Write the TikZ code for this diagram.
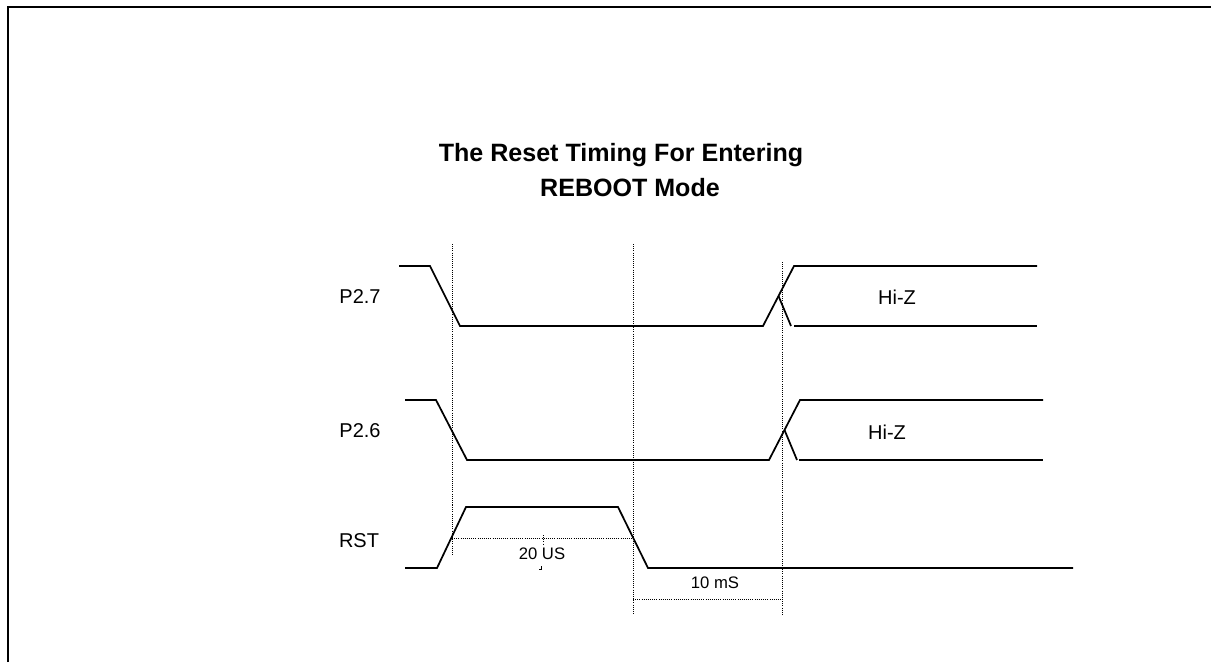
\documentclass[tikz,border=0pt]{standalone}
\usepackage{fontspec}
\setmainfont{Liberation Sans}
\begin{document}
\begin{tikzpicture}[x=0.75pt,y=-0.75pt,
  sig/.style={line width=1.3pt,line join=miter},
  guide/.style={line width=0.6pt,densely dotted},
  frame/.style={line width=1.6pt},
  lbl/.style={font=\fontsize{15}{18}\selectfont,inner sep=0pt},
  dim/.style={font=\fontsize{12.5}{15}\selectfont,inner sep=0pt},
  ttl/.style={font=\bfseries\fontsize{18.8}{22}\selectfont,inner sep=0pt}]
\useasboundingbox (0,0) rectangle (1211,662);
% frame (top and left only)
\draw[frame] (8,662) -- (8,7) -- (1211,7);
% title
\node[ttl] (t1) at (621,155) {The Reset Timing For Entering};
\node[ttl] (t2) at (630,188) {REBOOT Mode};
% labels
\node[lbl] (l27) at (360,297) {P2.7};
\node[lbl] (l26) at (360,431) {P2.6};
\node[lbl] (lrst) at (359,541) {RST};
\node[lbl] (hz1) at (897,297) {Hi-Z};
\node[lbl] (hz2) at (887,432) {Hi-Z};
% guide lines
\draw[guide] (452,244) -- (452,505);
\draw[guide] (633,244) -- (633,615);
\draw[guide] (782,262) -- (782,615);
% P2.7
\draw[sig] (399,266) -- (430,266) -- (460,326) -- (763,326) -- (794,266) -- (1037,266);
\draw[sig] (778.5,296) -- (791,326);
\draw[sig] (794,326) -- (1037,326);
% P2.6
\draw[sig] (405,400) -- (436,400) -- (467,460) -- (769,460) -- (800,400) -- (1043,400);
\draw[sig] (784.5,430) -- (797,460);
\draw[sig] (799,460) -- (1043,460);
% RST
\draw[sig] (405,568) -- (437,568) -- (466,507) -- (618,507) -- (648,568) -- (1073,568);
% 20 US dimension
\draw[guide] (452,505) -- (452,555);
\draw[guide] (452,538) -- (633,538);
\draw[guide] (543,535) -- (543,545);
\draw[line width=0.5pt] (539,569) -- (541,569) -- (541,566);
\node[dim] (d20) at (542,554) {20 US};
% 10 mS dimension
\draw[guide] (633,599) -- (782,599);
\node[dim] (d10) at (715,583) {10 mS};
\end{tikzpicture}
\end{document}
